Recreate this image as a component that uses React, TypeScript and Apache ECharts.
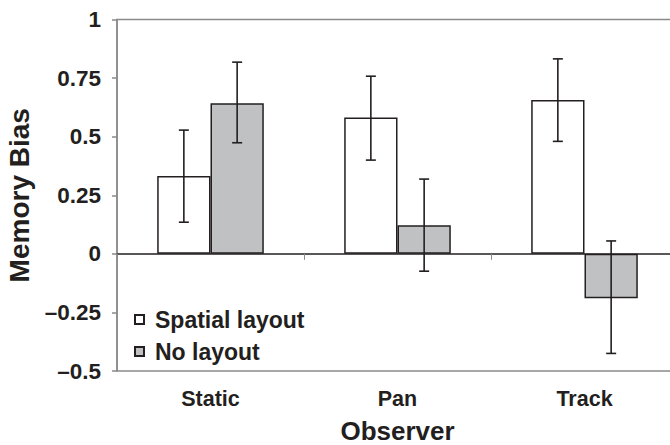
import React, { useEffect, useRef } from "react";
import * as echarts from "echarts";

const categories = ["Static", "Pan", "Track"];
const seriesNames = ["Spatial layout", "No layout"];
const spatialValues = [0.332, 0.582, 0.656];
const spatialLow = [0.135, 0.4, 0.48];
const spatialHigh = [0.528, 0.758, 0.832];
const noLayoutValues = [0.643, 0.122, -0.19];
const noLayoutLow = [0.474, -0.074, -0.425];
const noLayoutHigh = [0.818, 0.319, 0.055];
const yTicks = [-0.5, -0.25, 0, 0.25, 0.5, 0.75, 1];

const DARK = "#231f20";
const AXIS_GRAY = "#8a8a8a";
const FONT = "'Liberation Sans', Arial, Helvetica, sans-serif";
const CAT_GAP = 0.43;

function errorSeries(low: number[], high: number[], side: number) {
  return {
    type: "custom",
    xAxisIndex: 0,
    yAxisIndex: 0,
    z: 5,
    silent: true,
    data: categories.map((_, i) => [i, low[i], high[i]]),
    renderItem: (params: any, api: any) => {
      const idx = api.value(0);
      const band = api.size([1, 0])[0];
      const barW = (band * (1 - CAT_GAP)) / 2;
      const lo = api.coord([idx, api.value(1)]);
      const hi = api.coord([idx, api.value(2)]);
      const x = lo[0] + side * barW / 2;
      const cap = 5;
      const style = { stroke: DARK, lineWidth: 1.6 };
      return {
        type: "group",
        children: [
          { type: "line", shape: { x1: x, y1: lo[1], x2: x, y2: hi[1] }, style },
          { type: "line", shape: { x1: x - cap, y1: hi[1], x2: x + cap, y2: hi[1] }, style },
          { type: "line", shape: { x1: x - cap, y1: lo[1], x2: x + cap, y2: lo[1] }, style },
        ],
      };
    },
  };
}

export default function App() {
  const ref = useRef<HTMLDivElement>(null);
  useEffect(() => {
    if (!ref.current) return;
    const chart = echarts.init(ref.current, null, { renderer: "svg" });
    chart.setOption({
      animation: false,
      backgroundColor: "#fff",
      textStyle: { fontFamily: FONT },
      grid: {
        left: 117,
        right: 0,
        top: 19.5,
        bottom: 74,
        outerBoundsMode: "none",
        containLabel: false,
        show: true,
        borderColor: AXIS_GRAY,
        borderWidth: 1.5,
      },
      legend: {
        data: seriesNames,
        orient: "vertical",
        left: 129,
        top: 303,
        icon: "rect",
        itemWidth: 9,
        itemHeight: 9,
        itemGap: 9,
        textStyle: {
          fontFamily: FONT,
          fontWeight: "bold",
          fontSize: 23,
          lineHeight: 23,
          color: DARK,
          padding: [0, 0, 0, 6],
        },
      },
      xAxis: [
        {
          type: "category",
          data: categories,
          position: "bottom",
          axisLine: { show: false, onZero: false },
          axisTick: { show: false },
          axisLabel: {
            margin: 17,
            fontFamily: FONT,
            fontWeight: "bold",
            fontSize: 21.5,
            color: DARK,
          },
          name: "Observer",
          nameLocation: "middle",
          nameGap: 47,
          nameTextStyle: {
            fontFamily: FONT,
            fontWeight: "bold",
            fontSize: 26,
            color: DARK,
          },
        },
        {
          type: "category",
          data: categories,
          position: "top",
          axisLine: { show: true, onZero: true, lineStyle: { color: DARK, width: 1.5 } },
          axisTick: { show: true, inside: true, length: 6, lineStyle: { color: AXIS_GRAY, width: 1 } },
          axisLabel: { show: false },
          splitLine: { show: false },
        },
      ],
      yAxis: {
        type: "value",
        min: yTicks[0],
        max: yTicks[yTicks.length - 1],
        interval: 0.25,
        axisLine: { show: true, lineStyle: { color: AXIS_GRAY, width: 1.5 } },
        axisTick: { show: true, length: 5, lineStyle: { color: AXIS_GRAY, width: 1.5 } },
        splitLine: { show: false },
        axisLabel: {
          margin: 16,
          fontFamily: FONT,
          fontWeight: "bold",
          fontSize: 22.5,
          color: DARK,
          formatter: (v: number) => {
            const t = yTicks.find((x) => Math.abs(x - v) < 1e-9);
            if (t === undefined) return "";
            return t < 0 ? "\u2013" + String(-t) : String(t);
          },
        },
        name: "Memory Bias",
        nameLocation: "middle",
        nameGap: 82,
        nameTextStyle: {
          fontFamily: FONT,
          fontWeight: "bold",
          fontSize: 28,
          color: DARK,
        },
      },
      series: [
        {
          name: seriesNames[0],
          type: "bar",
          xAxisIndex: 0,
          data: spatialValues,
          barGap: "0%",
          barCategoryGap: CAT_GAP * 100 + "%",
          itemStyle: { color: "#ffffff", borderColor: DARK, borderWidth: 1.5 },
          z: 3,
        },
        {
          name: seriesNames[1],
          type: "bar",
          xAxisIndex: 0,
          data: noLayoutValues,
          barGap: "0%",
          barCategoryGap: CAT_GAP * 100 + "%",
          itemStyle: { color: "#c0c1c3", borderColor: DARK, borderWidth: 1.5 },
          z: 3,
        },
        errorSeries(spatialLow, spatialHigh, -1),
        errorSeries(noLayoutLow, noLayoutHigh, 1),
      ],
    });
    return () => chart.dispose();
  }, []);
  return (
    <div
      style={{
        position: "fixed",
        left: 0,
        top: 0,
        width: 670,
        height: 445,
        overflow: "hidden",
        background: "#fff",
      }}
    >
      <div ref={ref} style={{ width: 678, height: 445 }} />
    </div>
  );
}
